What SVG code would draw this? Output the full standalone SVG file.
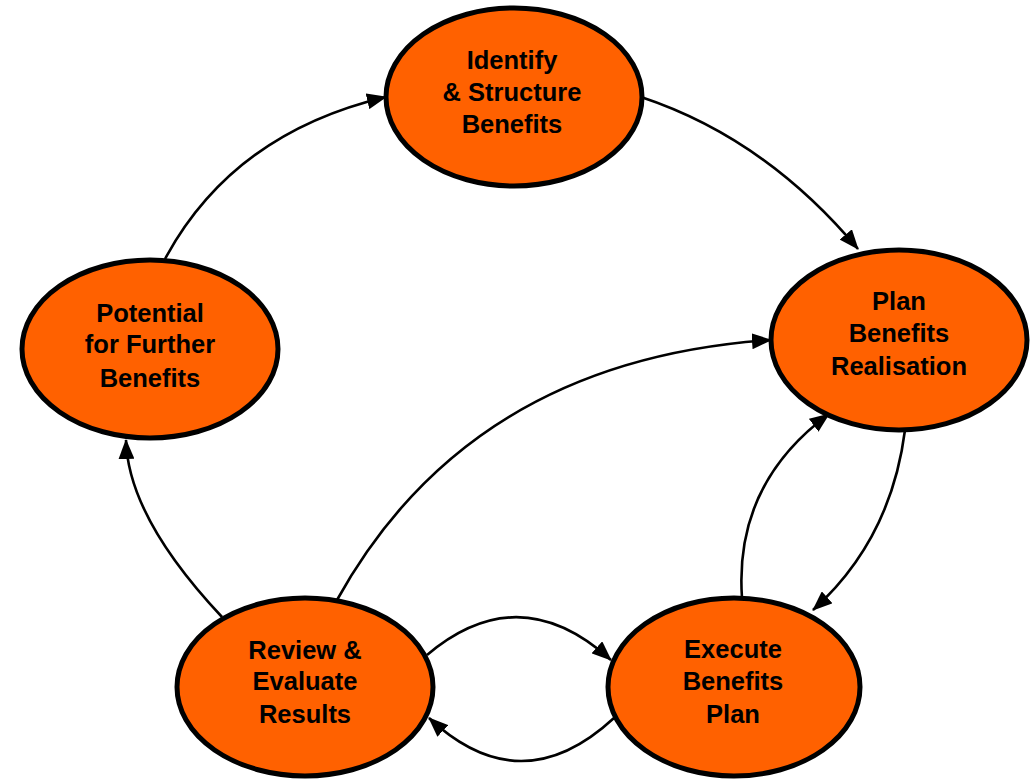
<svg xmlns="http://www.w3.org/2000/svg" width="1036" height="779" viewBox="0 0 1036 779">
  <style>
    .node ellipse { fill: #FF6100; stroke: #000; stroke-width: 5; }
    .node text { font-family: "Liberation Sans", Arial, sans-serif; font-weight: bold; font-size: 25.5px; fill: #000; text-anchor: middle; }
    .edge { fill: none; stroke: #000; stroke-width: 2.6; marker-end: url(#arrow); }
  </style>
  <defs>
    <marker id="arrow" viewBox="0 0 20 16" refX="19" refY="8" markerWidth="20" markerHeight="16" markerUnits="userSpaceOnUse" orient="auto">
      <path d="M0,0 L20,8 L0,16 z" fill="#000"/>
    </marker>
  </defs>
  <rect width="1036" height="779" fill="#fff"/>

  <g id="connectors">
    <path class="edge" d="M165,259 Q233,133 386,97"/>
    <path class="edge" d="M641,97 Q765,138 858,249"/>
    <path class="edge" d="M905,430 Q891,540 813,610"/>
    <path class="edge" d="M742,598 Q734,484 829,414"/>
    <path class="edge" d="M337,600 Q470,360 771,340"/>
    <path class="edge" d="M222,617 Q128,517 126,440"/>
    <path class="edge" d="M427,655 Q519,577 611,660"/>
    <path class="edge" d="M614,718 Q521,804 429,718"/>
  </g>

  <g id="identify" class="node">
    <ellipse cx="514" cy="97" rx="128" ry="89"/>
    <text x="512" y="69">Identify</text>
    <text x="512" y="101">&amp; Structure</text>
    <text x="512" y="133">Benefits</text>
  </g>

  <g id="plan" class="node">
    <ellipse cx="899" cy="340" rx="128" ry="90"/>
    <text x="899" y="310">Plan</text>
    <text x="899" y="342">Benefits</text>
    <text x="899" y="375">Realisation</text>
  </g>

  <g id="execute" class="node">
    <ellipse cx="734" cy="687" rx="126" ry="89"/>
    <text x="733" y="658">Execute</text>
    <text x="733" y="690">Benefits</text>
    <text x="733" y="723">Plan</text>
  </g>

  <g id="review" class="node">
    <ellipse cx="305" cy="687" rx="128" ry="89"/>
    <text x="305" y="659">Review &amp;</text>
    <text x="305" y="690">Evaluate</text>
    <text x="305" y="723">Results</text>
  </g>

  <g id="potential" class="node">
    <ellipse cx="150" cy="349" rx="128" ry="89"/>
    <text x="150" y="322">Potential</text>
    <text x="150" y="353">for Further</text>
    <text x="150" y="387">Benefits</text>
  </g>
</svg>
